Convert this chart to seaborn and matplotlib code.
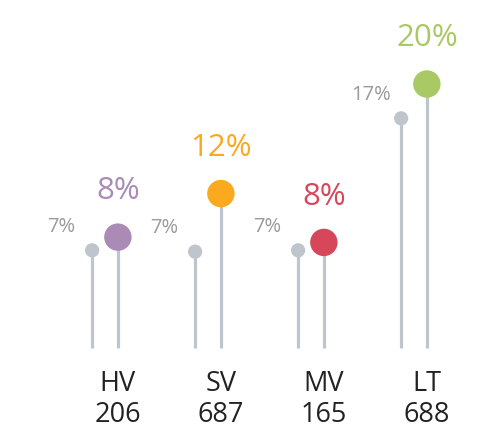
import numpy as np
import pandas as pd
import matplotlib
matplotlib.use("Agg")
import matplotlib.pyplot as plt
import seaborn as sns

categories = ["HV", "SV", "MV", "LT"]
counts = [206, 687, 165, 688]
previous = [7.4, 7.3, 7.4, 17.4]
current = [8.4, 11.7, 8.0, 20.0]
colors = ["#A98BB6", "#FBAA1F", "#D6475A", "#A9C965"]
gray = "#BFC5CC"

sns.set_theme(style="white")
plt.rcParams["font.family"] = ["Open Sans", "DejaVu Sans"]

fig = plt.figure(figsize=(4.93, 4.32), dpi=100)
ax = fig.add_axes([0, 0, 1, 1])

pos = np.arange(len(categories))
off = 0.125
df = pd.DataFrame({
    "x": np.concatenate([pos - off, pos + off]),
    "y": previous + current,
    "kind": ["prev"] * 4 + ["cur"] * 4,
    "cat": categories * 2,
})

# stems
ax.vlines(df["x"], 0, df["y"], color=gray, lw=2.3, zorder=1)

prev_df = df[df.kind == "prev"]
cur_df = df[df.kind == "cur"]
sns.scatterplot(data=prev_df, x="x", y="y", color=gray, s=105, edgecolor="none",
                ax=ax, zorder=3, legend=False)
sns.scatterplot(data=cur_df, x="x", y="y", hue="cat", palette=dict(zip(categories, colors)),
                s=390, edgecolor="none", ax=ax, zorder=3, legend=False)

for i, (c, n, p, v, col) in enumerate(zip(categories, counts, previous, current, colors)):
    ax.annotate(f"{round(p):d}%", (i - off, p), xytext=(-22, 17), textcoords="offset points",
                ha="center", va="center", fontsize=14.5, color="#9A9A9A")
    ax.annotate(f"{round(v):d}%", (i + off, v), xytext=(0, 33), textcoords="offset points",
                ha="center", va="center", fontsize=22.5, color=col)
    ax.annotate(c, (i + off, 0), xytext=(0, -26), textcoords="offset points",
                ha="center", va="center", fontsize=19.5, color="#222222")
    ax.annotate(str(n), (i + off, 0), xytext=(0, -48.5), textcoords="offset points",
                ha="center", va="center", fontsize=19.5, color="#222222")

ax.set_xlim(-105 / 103, (493 - 105) / 103)
ax.set_ylim(-(432 - 348) / 13.2, 348 / 13.2)
ax.axis("off")
fig.savefig("out.png", dpi=100)
